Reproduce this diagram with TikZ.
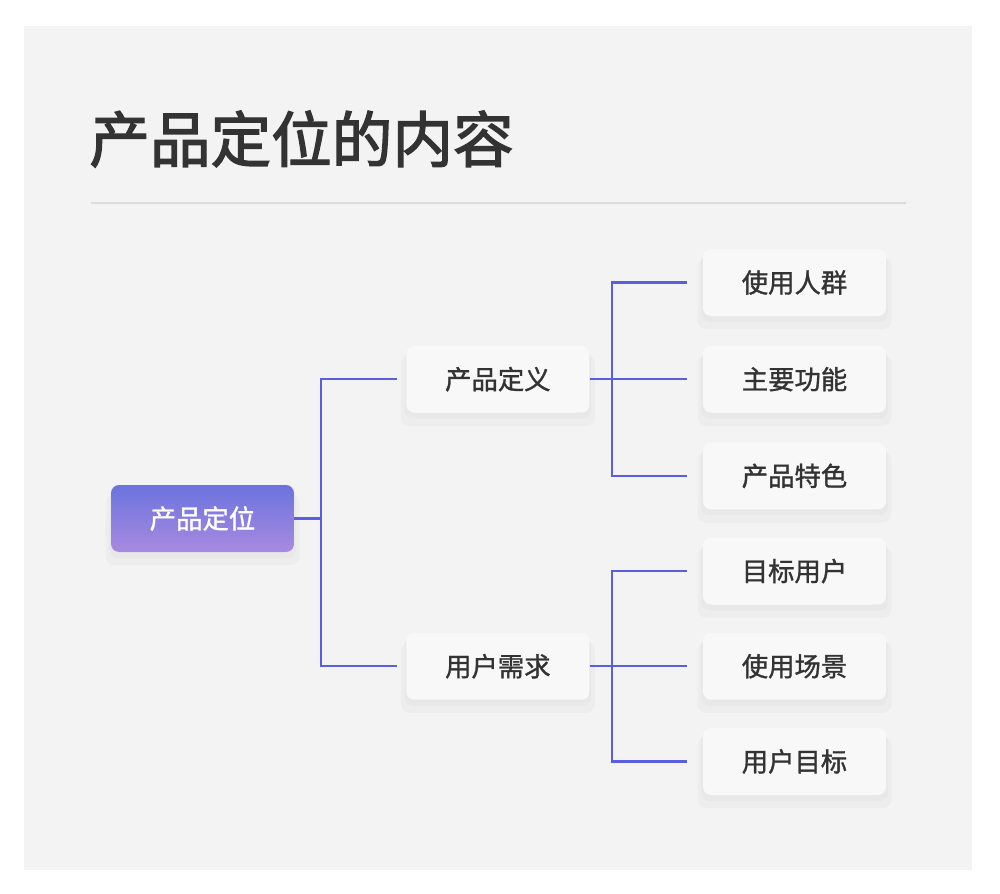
\documentclass[tikz,border=0pt]{standalone}
\usepackage{fontspec}
\setmainfont{Noto Sans CJK SC}
\newfontfamily\nodefont{Noto Sans CJK SC}[FakeBold=1.2]
\newfontfamily\headfont{Noto Sans CJK SC}[FakeBold=2.2]
\usetikzlibrary{positioning,shadows}
\definecolor{panelgray}{HTML}{F3F3F4}
\definecolor{boxgray}{HTML}{F8F8F9}
\definecolor{rulegray}{HTML}{DCDCDE}
\definecolor{linkblue}{HTML}{5A5EE0}
\definecolor{rootTop}{HTML}{6B73DE}
\definecolor{rootBot}{HTML}{A88AE0}
\definecolor{inkgray}{HTML}{333333}

\begin{document}
\begin{tikzpicture}[x=0.02cm,y=-0.02cm,node distance=0.58cm,
                    every node/.style={text=inkgray,font=\nodefont\fontsize{15}{15}\selectfont}]
  \tikzstyle{box}=[rounded corners=0.16cm,minimum width=3.66cm,minimum height=1.34cm,
                   inner sep=0pt,fill=boxgray,
                   drop shadow={shadow xshift=0pt,shadow yshift=-6pt,shadow scale=1.06,
                                opacity=0.022,fill=black},
                   drop shadow={shadow xshift=0pt,shadow yshift=-3pt,shadow scale=1.02,
                                opacity=0.02,fill=black}]
  \tikzstyle{rootbox}=[box,top color=rootTop,bottom color=rootBot,text=white]
  \tikzstyle{link}=[draw=linkblue,line width=1.3pt]

  % frame and heading
  \useasboundingbox[fill=white] (0,0) rectangle (1000,893);
  \fill[panelgray] (24,26) rectangle (972,870);
  \node[anchor=west,inner sep=0pt,font=\headfont\fontsize{34.5}{34.5}\selectfont] (title) at (89,139) {产品定位的内容};
  \draw[rulegray,line width=0.8pt] (91,203) -- (906,203);

  % leaves
  \node[box] (crowd) at (794.5,282.5) {使用人群};
  \node[box] (func)  [below=of crowd] {主要功能};
  \node[box] (feat)  [below=of func]  {产品特色};
  \node[box] (user)  [below=0.55cm of feat]  {目标用户};
  \node[box] (scene) [below=0.55cm of user]  {使用场景};
  \node[box] (goal)  [below=0.55cm of scene] {用户目标};

  % middle level
  \node[box] (def)  [left=2.26cm of func]  {产品定义};
  \node[box] (need) [left=2.26cm of scene] {用户需求};

  % root
  \node[rootbox] (root) at (202.5,518.5) {产品定位};

  % connectors
  \draw[link,shorten >=0.18cm] (root.east) -- ++(27,0) |- (def.west);
  \draw[link,shorten >=0.18cm] (root.east) -- ++(27,0) |- (need.west);
  \foreach \leaf in {crowd,func,feat}
    \draw[link,shorten >=0.32cm] (def.east) -- ++(22,0) |- (\leaf.west);
  \foreach \leaf in {user,scene,goal}
    \draw[link,shorten >=0.32cm] (need.east) -- ++(22,0) |- (\leaf.west);
\end{tikzpicture}
\end{document}
